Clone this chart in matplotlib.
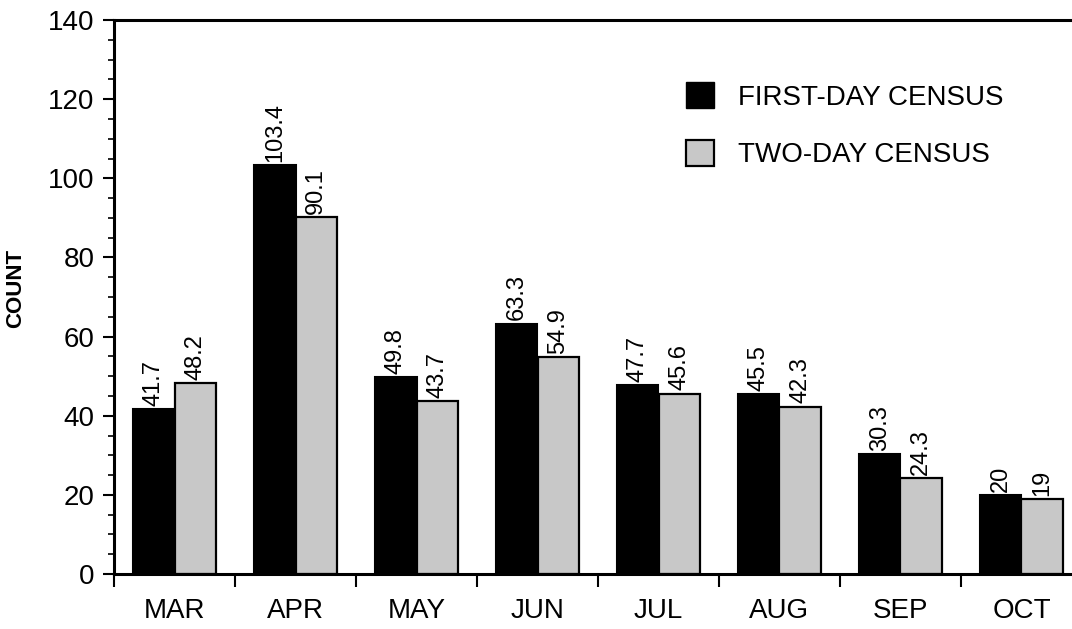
import matplotlib
matplotlib.use("Agg")
import matplotlib.pyplot as plt
import numpy as np
from matplotlib.ticker import MultipleLocator
from matplotlib.patches import Patch

plt.rcParams['font.family'] = ['Liberation Sans', 'DejaVu Sans']

months = ["MAR", "APR", "MAY", "JUN", "JUL", "AUG", "SEP", "OCT"]
first_day = [41.7, 103.4, 49.8, 63.3, 47.7, 45.5, 30.3, 20]
two_day = [48.2, 90.1, 43.7, 54.9, 45.6, 42.3, 24.3, 19]
first_labels = ["41.7", "103.4", "49.8", "63.3", "47.7", "45.5", "30.3", "20"]
two_labels = ["48.2", "90.1", "43.7", "54.9", "45.6", "42.3", "24.3", "19"]
legend_labels = ["FIRST-DAY CENSUS", "TWO-DAY CENSUS"]

W, H = 1072, 629
fig = plt.figure(figsize=(W / 100, H / 100), dpi=100)
ax = fig.add_axes([114 / W, (H - 574) / H, 1 - 114 / W, (574 - 20) / H])

x = np.arange(len(months))
bw = 0.34
gray = '#c8c8c8'
ax.bar(x - bw / 2, first_day, bw, color='black', edgecolor='black', linewidth=1.5)
ax.bar(x + bw / 2, two_day, bw, color=gray, edgecolor='black', linewidth=1.6)

for xi, v, s in zip(x - bw / 2, first_day, first_labels):
    ax.text(xi, v + 0.8, s, rotation=90, ha='center', va='bottom', fontsize=17)
for xi, v, s in zip(x + bw / 2, two_day, two_labels):
    ax.text(xi, v + 0.8, s, rotation=90, ha='center', va='bottom', fontsize=17)

ax.set_ylim(0, 140)
ax.set_xlim(-0.5, -0.5 + (W - 114) / 121)
ax.yaxis.set_major_locator(MultipleLocator(20))
ax.yaxis.set_minor_locator(MultipleLocator(5))
ax.set_xticks(np.arange(-0.5, 7.5, 1.0))
ax.set_xticklabels([])
ax.set_xticks(x, minor=True)
ax.set_xticklabels(months, minor=True, fontsize=20)
ax.tick_params(axis='x', which='minor', length=0, pad=17)
ax.tick_params(axis='x', which='major', length=9, width=1.5, direction='out')
ax.tick_params(axis='y', which='major', length=8, width=1.5, labelsize=20, pad=6)
ax.tick_params(axis='y', which='minor', length=4, width=1.2)

for sp in ['left', 'bottom', 'top']:
    ax.spines[sp].set_linewidth(2.2)
ax.spines['right'].set_visible(False)

ax.set_ylabel("COUNT", fontsize=16, fontweight='bold')
ax.yaxis.set_label_coords(-(114 - 26) / (W - 114), 0.516)

handles = [Patch(facecolor='black', edgecolor='black'),
           Patch(facecolor=gray, edgecolor='black', linewidth=1.6)]
fig.legend(handles, legend_labels, loc='upper left',
           bbox_to_anchor=(686 / W, 1 - 82 / H), frameon=False,
           fontsize=20, handlelength=1.0, handleheight=1.08,
           handletextpad=0.86, labelspacing=1.04, borderpad=0, borderaxespad=0)

fig.savefig("out.png", dpi=100)
